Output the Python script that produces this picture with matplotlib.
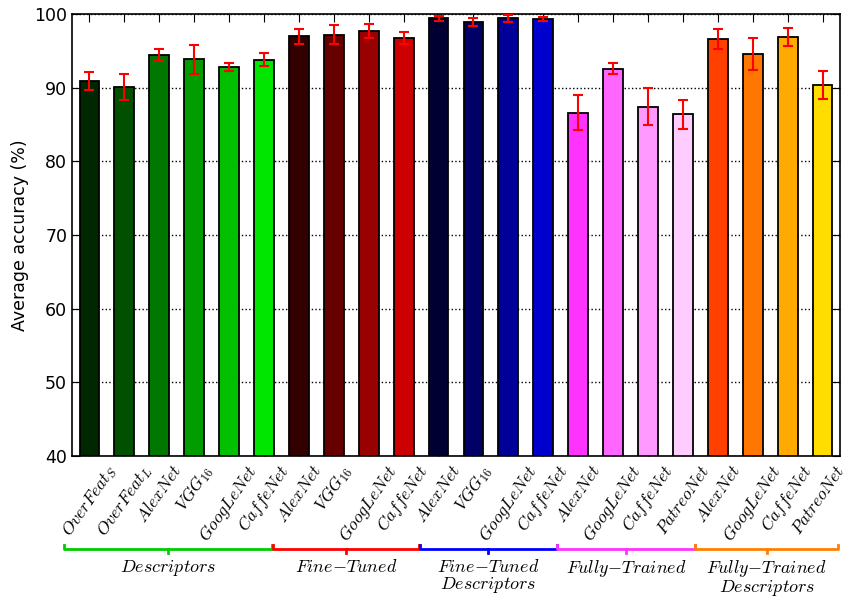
import matplotlib
matplotlib.use("Agg")
import matplotlib.pyplot as plt
import matplotlib.transforms as mtransforms

plt.rcParams['mathtext.fontset'] = 'cm'

# bar labels (mathtext, italic like the original LaTeX labels)
labels = [r'$OverFeat_S$', r'$OverFeat_L$', r'$AlexNet$', r'$VGG_{16}$', r'$GoogLeNet$', r'$CaffeNet$',
          r'$AlexNet$', r'$VGG_{16}$', r'$GoogLeNet$', r'$CaffeNet$',
          r'$AlexNet$', r'$VGG_{16}$', r'$GoogLeNet$', r'$CaffeNet$',
          r'$AlexNet$', r'$GoogLeNet$', r'$CaffeNet$', r'$PatreoNet$',
          r'$AlexNet$', r'$GoogLeNet$', r'$CaffeNet$', r'$PatreoNet$']

accuracy = [90.9, 90.1, 94.4, 93.85, 92.8, 93.8,
            96.97, 97.2, 97.7, 96.75,
            99.4, 98.9, 99.4, 99.3,
            86.6, 92.6, 87.4, 86.4,
            96.6, 94.6, 96.9, 90.4]

std = [1.2, 1.8, 0.8, 2.0, 0.6, 0.85,
       1.05, 1.25, 1.0, 0.85,
       0.38, 0.5, 0.5, 0.25,
       2.4, 0.7, 2.5, 1.95,
       1.3, 2.2, 1.2, 1.9]

colors = ['#002800', '#005000', '#007800', '#009c00', '#00c000', '#00e600',
          '#330000', '#660000', '#990000', '#cc0000',
          '#000033', '#000066', '#000099', '#0000cc',
          '#ff33ff', '#ff66ff', '#ff99ff', '#ffccff',
          '#ff4000', '#ff7700', '#ffaa00', '#ffdd00']

groups = [r'$Descriptors$', r'$Fine{-}Tuned$', r'$Fine{-}Tuned$' + '\n' + r'$Descriptors$',
          r'$Fully{-}Trained$', r'$Fully{-}Trained$' + '\n' + r'$Descriptors$']
group_spans = [(-0.72, 5.24), (5.27, 9.43), (9.46, 13.38), (13.40, 17.34), (17.36, 21.43)]
group_colors = ['#00cc00', '#ff0000', '#0000ff', '#ff33ff', '#ff8000']

fig = plt.figure(figsize=(8.5, 5.98), dpi=100)
ax = fig.add_axes([72 / 850, 1 - 456 / 598, 768 / 850, 442 / 598])

x = list(range(len(accuracy)))
ax.bar(x, accuracy, width=0.57, color=colors, edgecolor='black', linewidth=1.3, zorder=2)
ax.errorbar(x, accuracy, yerr=std, fmt='none', ecolor='red', elinewidth=1.5,
            capsize=3.5, capthick=1.5, zorder=3)

ax.set_xlim(-0.5, 21.5)
ax.set_ylim(40, 100)
ax.set_yticks(range(40, 101, 10))
ax.set_ylabel('Average accuracy (%)', fontsize=12.5)
ax.yaxis.grid(True, linestyle=':', color='black', linewidth=1, zorder=0)
ax.set_axisbelow(True)

ax.set_xticks(x)
ax.set_xticklabels(labels, rotation=55, ha='center', fontsize=12.5)
ax.tick_params(axis='y', labelsize=12.5, direction='in', length=6, right=True)
ax.tick_params(axis='x', direction='in', length=6, top=True, pad=4)
for sp in ax.spines.values():
    sp.set_linewidth(1.2)

# nudge the last label a little so it stays inside the figure
last = ax.get_xticklabels()[-1]
last.set_transform(last.get_transform() + mtransforms.ScaledTranslation(-4 / 100, 0, fig.dpi_scale_trans))

# group brackets below the tick labels
trans = mtransforms.blended_transform_factory(ax.transData, fig.transFigure)
y_line = 1 - 549 / 598
tick = 4 / 598
for (x0, x1), name, c in zip(group_spans, groups, group_colors):
    xm = (x0 + x1) / 2
    ax.plot([x0, x0, x1, x1], [y_line + tick, y_line, y_line, y_line + tick], color=c,
            linewidth=2, transform=trans, clip_on=False)
    ax.plot([xm, xm], [y_line, y_line - tick], color=c, linewidth=2, transform=trans, clip_on=False)
    ax.text(xm, y_line - 9 / 598, name, transform=trans, ha='center', va='top',
            fontsize=13, linespacing=0.9)

fig.savefig('out.png', dpi=100)
